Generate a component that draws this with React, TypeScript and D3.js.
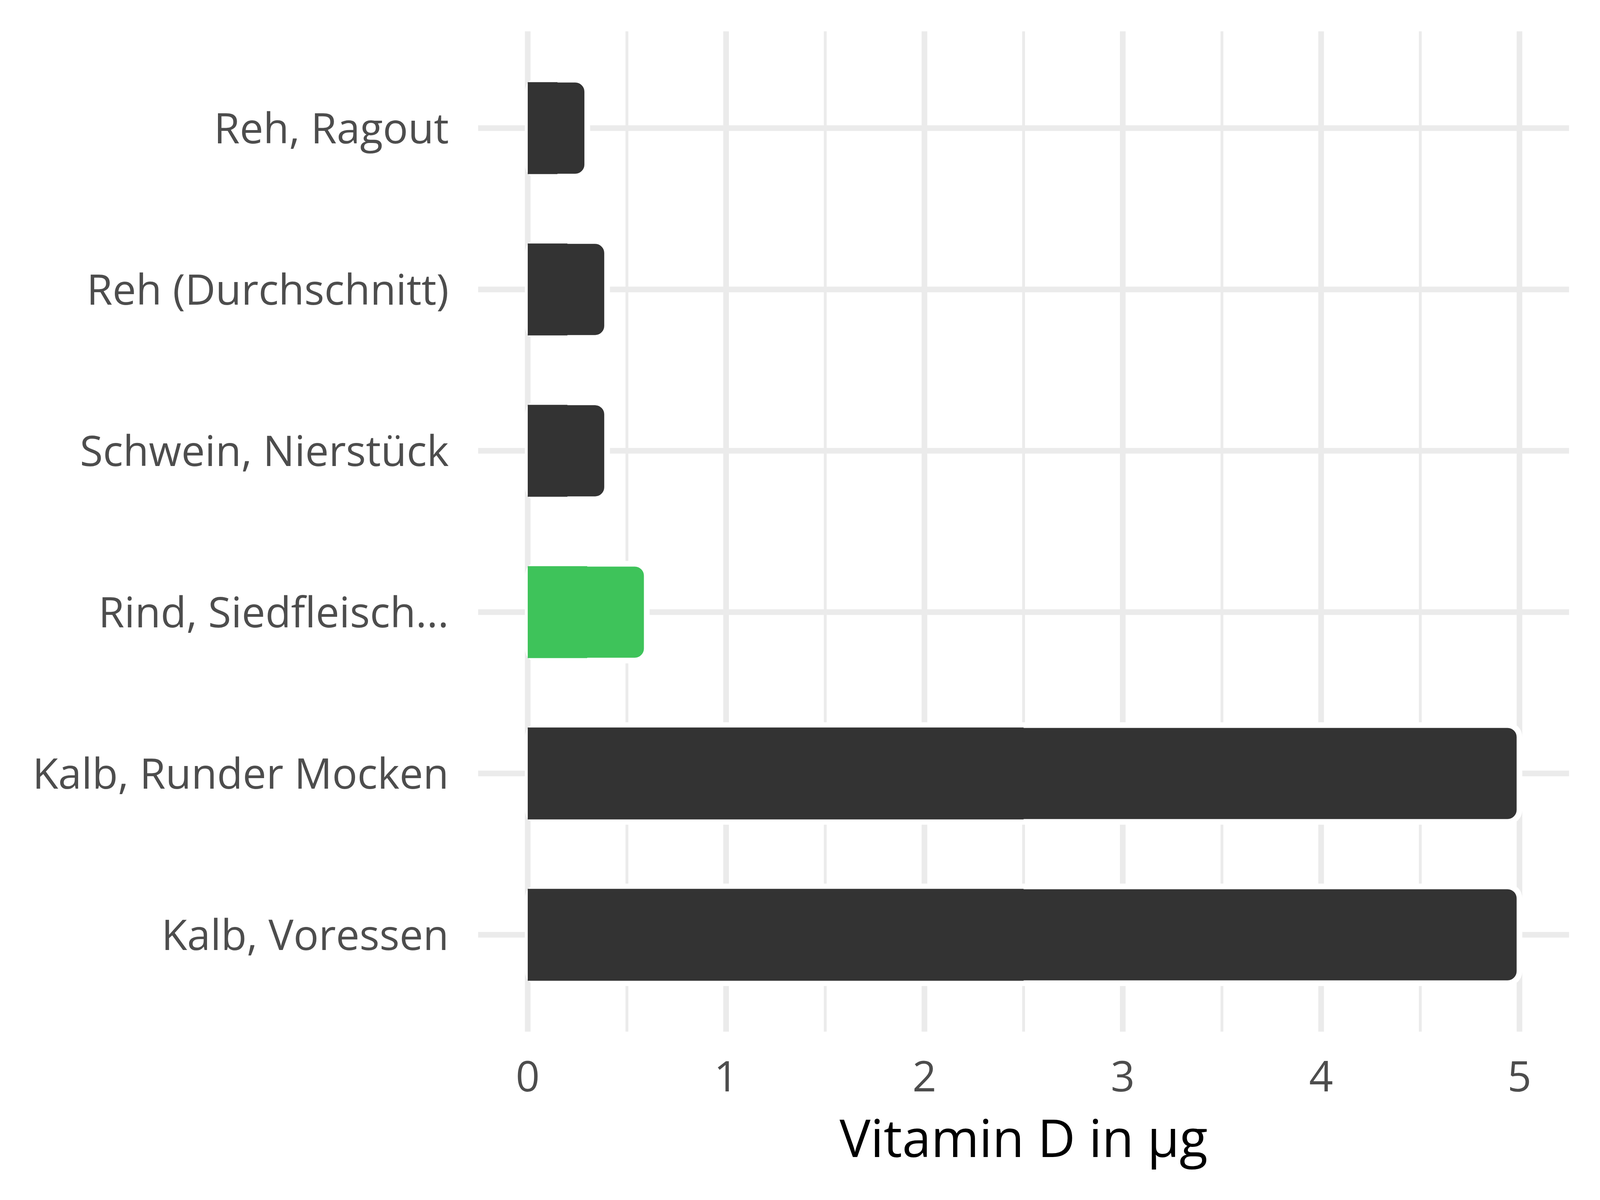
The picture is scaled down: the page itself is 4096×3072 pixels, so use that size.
import React from 'react';
import * as d3 from 'd3';

const categories: string[] = [
  'Reh, Ragout',
  'Reh (Durchschnitt)',
  'Schwein, Nierstück',
  'Rind, Siedfleisch...',
  'Kalb, Runder Mocken',
  'Kalb, Voressen',
];
const values: number[] = [0.3, 0.4, 0.4, 0.6, 5, 5];
const highlighted: boolean[] = [false, false, false, true, false, false];
const xTicks: number[] = [0, 1, 2, 3, 4, 5];
const xMinor: number[] = [0.5, 1.5, 2.5, 3.5, 4.5];
const xTitle = 'Vitamin D in µg';

const W = 4096;
const H = 3072;
const s = 0.853;

const App: React.FC = () => {
  // panel bounds (ggplot-like expansion)
  const x = d3.scaleLinear().domain([-0.25, 5.25]).range([1435 * s, 4709 * s]);
  const y = d3.scalePoint<string>().domain(categories).range([94 * s, 3096 * s]).padding(0.6);

  const [px0, px1] = x.range();
  const [py0, py1] = y.range();
  const step = y.step();
  const barH = step * 0.6;
  const sw = 17 * s;
  const rx = 36 * s;
  const font = '"Open Sans", "Noto Sans", sans-serif';
  const grid = '#EBEBEB';

  return (
    <svg width={W} height={H} style={{ position: 'absolute', left: 0, top: 0, background: '#fff' }}>
      {/* grid */}
      {xMinor.map(t => (
        <line key={'mn' + t} x1={x(t)} x2={x(t)} y1={py0} y2={py1} stroke={grid} strokeWidth={sw / 2} />
      ))}
      {xTicks.map(t => (
        <line key={'mj' + t} x1={x(t)} x2={x(t)} y1={py0} y2={py1} stroke={grid} strokeWidth={sw} />
      ))}
      {categories.map(c => (
        <line key={'h' + c} x1={px0} x2={px1} y1={y(c)} y2={y(c)} stroke={grid} strokeWidth={sw} />
      ))}

      {/* bars */}
      {categories.map((c, i) => {
        const cy = y(c) as number;
        const fill = highlighted[i] ? '#3EC35A' : '#333333';
        const x0 = x(0);
        const x1 = x(values[i]);
        const xm = x(values[i] / 2);
        return (
          <g key={'b' + c}>
            <rect x={x0} y={cy - barH / 2} width={x1 - x0} height={barH} rx={rx} ry={rx}
              fill={fill} stroke="#ffffff" strokeWidth={sw} />
            <rect x={x0} y={cy - barH / 2 + sw / 2 - 1} width={xm - x0} height={barH - sw + 2} fill={fill} />
          </g>
        );
      })}

      {/* y labels */}
      {categories.map(c => (
        <text key={'l' + c} x={1347 * s} y={(y(c) as number) + 46 * s} textAnchor="end"
          fontFamily={font} fontSize={126 * s} fill="#4D4D4D">{c}</text>
      ))}

      {/* x tick labels */}
      {xTicks.map(t => (
        <text key={'t' + t} x={x(t)} y={3275 * s} textAnchor="middle"
          fontFamily={font} fontSize={126 * s} fill="#4D4D4D">{t}</text>
      ))}

      <text x={(px0 + px1) / 2} y={3473 * s} textAnchor="middle" fontFamily={font}
        fontSize={156 * s} fill="#000000">{xTitle}</text>
    </svg>
  );
};

export default App;
